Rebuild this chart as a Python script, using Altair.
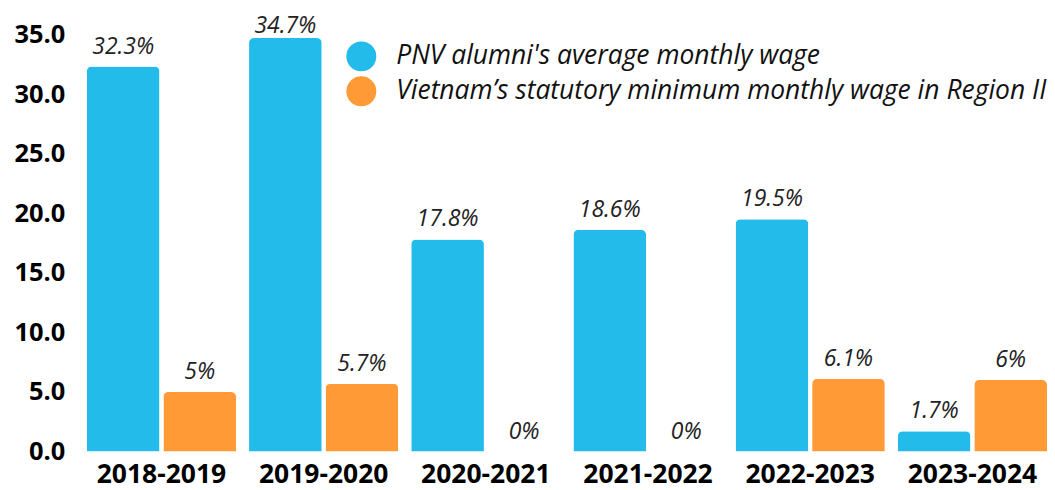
import altair as alt
import pandas as pd

years = ["2018-2019", "2019-2020", "2020-2021", "2021-2022", "2022-2023", "2023-2024"]
series = ["PNV alumni's average monthly wage",
          "Vietnam’s statutory minimum monthly wage in Region II"]
pnv_values = [32.3, 34.7, 17.8, 18.6, 19.5, 1.7]
min_values = [5, 5.7, 0, 0, 6.1, 6]
pnv_labels = ["32.3%", "34.7%", "17.8%", "18.6%", "19.5%", "1.7%"]
min_labels = ["5%", "5.7%", "0%", "0%", "6.1%", "6%"]
colors = ["#23BBEA", "#FF9A36"]
y_ticks = [0, 5, 10, 15, 20, 25, 30, 35]

rows = []
for i, y in enumerate(years):
    rows.append({"year": y, "series": series[0], "value": pnv_values[i], "label": pnv_labels[i]})
    rows.append({"year": y, "series": series[1], "value": min_values[i], "label": min_labels[i]})
df = pd.DataFrame(rows)

FONT = "Open Sans"

base = alt.Chart(df).encode(
    x=alt.X("year:N", sort=years, title=None,
            scale=alt.Scale(paddingInner=0.08, paddingOuter=0),
            axis=alt.Axis(labelAngle=0, domain=False, ticks=False, grid=False,
                          labelFont=FONT, labelFontSize=26.5, labelFontWeight="bold",
                          labelColor="#000000", labelPadding=10)),
    xOffset=alt.XOffset("series:N", sort=series, scale=alt.Scale(paddingInner=0.05)),
)

bars = base.mark_bar(cornerRadiusTopLeft=5, cornerRadiusTopRight=5).encode(
    y=alt.Y("value:Q", title=None, scale=alt.Scale(domain=[0, 35]),
            axis=alt.Axis(values=y_ticks, format=".1f", domain=False, ticks=False, grid=False,
                          labelFont=FONT, labelFontSize=25.5, labelFontWeight="bold",
                          labelColor="#000000", labelPadding=22)),
    color=alt.Color("series:N", scale=alt.Scale(domain=series, range=colors),
                    legend=alt.Legend(title=None, orient="none", legendX=260, legendY=7,
                                      symbolType="circle", symbolSize=900, symbolStrokeWidth=0,
                                      labelFont=FONT, labelFontSize=26.5, labelFontStyle="italic",
                                      labelColor="#111111", labelLimit=0, labelOffset=20,
                                      rowPadding=5)),
)

# labels stay inside the plot area (clamped just below the top)
text = base.transform_calculate(
    label_y="min(datum.value, 34.0)"
).mark_text(dy=-13, baseline="alphabetic", font=FONT, fontSize=23,
            fontStyle="italic", color="#222222").encode(
    y=alt.Y("label_y:Q"),
    text="label:N",
)

chart = alt.layer(bars, text).properties(
    width=962, height=418,
    autosize=alt.AutoSizeParams(type="none"),
    padding={"left": 79, "top": 26, "right": 0, "bottom": 44},
).configure_view(stroke=None)

chart.save("out.html", embed_options={"renderer": "svg", "actions": False})
